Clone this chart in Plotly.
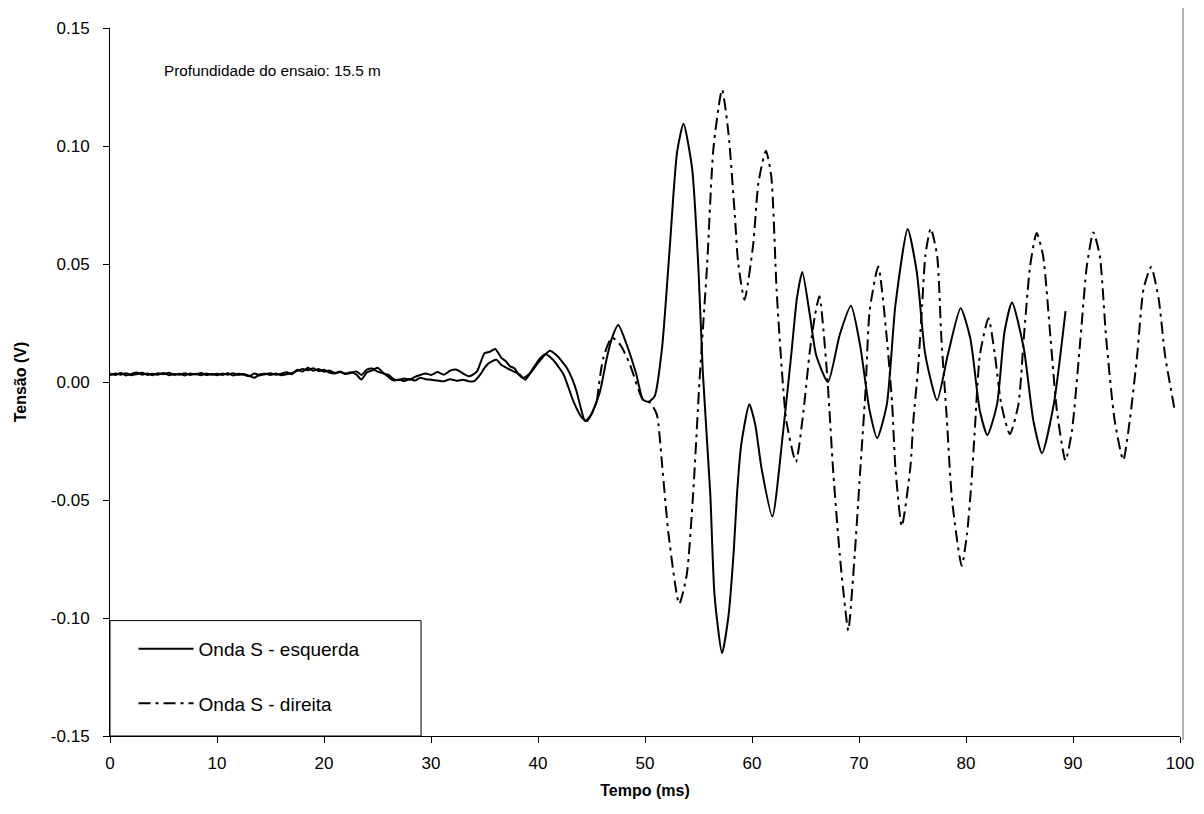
import plotly.graph_objects as go

# ---------------- data ----------------
# Onda S - esquerda (solid)
esq_t = [0.0, 0.5, 1.0, 1.5, 2.0, 2.5, 3.0, 3.5, 4.0, 4.5,
         5.0, 5.5, 6.0, 6.5, 7.0, 7.5, 8.0, 8.5, 9.0, 9.5,
         10.0, 10.5, 11.0, 11.5, 12.0, 12.5, 13.0, 13.5, 14.0, 14.5,
         15.0, 15.5, 16.0, 16.5, 17.0, 17.5, 18.0, 18.5, 19.0, 19.5,
         20.0, 20.5, 21.0, 21.5, 22.0, 22.5, 23.0, 23.5, 24.0, 24.5,
         25.0, 25.5, 26.0, 26.5, 27.0, 27.5, 28.0, 28.5, 29.0, 29.5,
         30.0, 30.6, 31.2, 31.8, 32.4, 33.0, 33.6, 34.3, 35.0, 35.5,
         36.0, 36.6, 37.0, 37.4, 37.8, 38.2, 38.6, 39.3, 39.9, 40.5,
         41.1, 41.7, 42.2, 42.7, 43.2, 43.6, 44.0, 44.4, 45.0, 45.8,
         46.4, 46.9, 47.5, 48.3, 48.8, 49.2, 49.8, 50.3, 50.9, 51.6,
         52.3, 53.0, 53.6, 54.4, 55.0, 55.4, 56.1, 56.5, 57.2, 57.8,
         58.3, 58.6, 59.0, 59.75, 60.3, 60.9, 61.9, 62.9, 63.7, 64.2,
         64.7, 65.4, 66.0, 67.1, 68.2, 69.25, 70.1, 71.0, 71.7, 72.6,
         73.4, 74.55, 75.4, 76.2, 77.3, 78.3, 79.5, 80.4, 81.3, 82.0,
         82.9, 83.6, 84.3, 85.4, 86.3, 87.1, 88.2, 89.3]
esq_v = [0.0035, 0.0030, 0.0038, 0.0028, 0.0034, 0.0040, 0.0031, 0.0036, 0.0029, 0.0037,
         0.0033, 0.0039, 0.0030, 0.0035, 0.0028, 0.0036, 0.0032, 0.0038, 0.0030, 0.0034,
         0.0029, 0.0036, 0.0031, 0.0037, 0.0030, 0.0034, 0.0027, 0.0018, 0.0032, 0.0035,
         0.0030, 0.0036, 0.0029, 0.0033, 0.0038, 0.0047, 0.0055, 0.0050, 0.0058, 0.0046,
         0.0052, 0.0040, 0.0036, 0.0042, 0.0034, 0.0038, 0.0045, 0.0030, 0.0052, 0.0057,
         0.0044, 0.0037, 0.0031, 0.0012, 0.0008, 0.0015, 0.0010, 0.0022, 0.0030, 0.0036,
         0.0030, 0.0042, 0.0031, 0.0048, 0.0052, 0.0036, 0.0024, 0.0045, 0.0122, 0.0128,
         0.0140, 0.0101, 0.0088, 0.0066, 0.0058, 0.0031, 0.0017, 0.0038, 0.0075, 0.0108,
         0.0132, 0.0115, 0.0090, 0.0059, 0.0012, -0.0039, -0.0110, -0.0165, -0.0137, -0.0039,
         0.0095, 0.0185, 0.0241, 0.0157, 0.0090, 0.0031, -0.0074, -0.0084, -0.0060, 0.0148,
         0.0561, 0.0975, 0.1094, 0.0906, 0.0475, 0.0044, -0.0473, -0.0904, -0.1149, -0.0992,
         -0.0712, -0.0474, -0.0263, -0.0094, -0.0180, -0.0368, -0.0570, -0.0214, 0.0130, 0.0355,
         0.0466, 0.0286, 0.0113, 0.0000, 0.0200, 0.0323, 0.0157, -0.0123, -0.0238, -0.0095,
         0.0325, 0.0648, 0.0466, 0.0115, -0.0077, 0.0115, 0.0312, 0.0185, -0.0123, -0.0225,
         -0.0095, 0.0213, 0.0337, 0.0143, -0.0165, -0.0302, -0.0095, 0.0300]

# Onda S - direita (dash-dot)
dir_t = [0.0, 0.5, 1.0, 1.5, 2.0, 2.5, 3.0, 3.5, 4.0, 4.5,
         5.0, 5.5, 6.0, 6.5, 7.0, 7.5, 8.0, 8.5, 9.0, 9.5,
         10.0, 10.5, 11.0, 11.5, 12.0, 12.5, 13.0, 13.5, 14.0, 14.5,
         15.0, 15.5, 16.0, 16.5, 17.0, 17.5, 18.0, 18.5, 19.0, 19.5,
         20.0, 20.5, 21.0, 21.5, 22.0, 22.5, 23.0, 23.5, 24.0, 24.5,
         25.0, 25.5, 26.0, 26.5, 27.0, 27.5, 28.0, 28.5, 29.0, 29.5,
         30.0, 30.6, 31.2, 31.8, 32.4, 33.0, 33.5, 34.0, 34.6, 35.0,
         35.4, 36.1, 36.6, 37.1, 37.7, 38.3, 38.8, 39.5, 40.2, 40.7,
         41.4, 42.4, 43.3, 44.1, 44.6, 45.5, 46.1, 46.9, 47.7, 48.6,
         49.8, 50.5, 51.1, 51.6, 52.2, 53.2, 53.9, 54.5, 55.1, 55.8,
         56.4, 57.2, 57.8, 58.4, 58.7, 59.3, 60.1, 60.6, 61.3, 61.8,
         62.3, 62.8, 63.2, 64.1, 64.8, 65.4, 65.9, 66.3, 67.0, 67.6,
         68.2, 68.7, 69.0, 69.6, 70.1, 70.6, 71.0, 71.8, 72.6, 73.1,
         73.4, 74.0, 74.8, 75.1, 75.5, 75.9, 76.2, 76.7, 77.3, 77.7,
         78.2, 78.7, 79.6, 80.1, 80.5, 80.8, 81.3, 82.1, 82.7, 83.3,
         84.1, 84.9, 85.4, 86.0, 86.6, 87.2, 87.9, 88.5, 89.3, 89.9,
         90.7, 91.3, 91.9, 92.5, 93.1, 93.9, 94.7, 95.3, 96.0, 96.6,
         97.3, 98.0, 98.6, 99.5]
dir_v = [0.0028, 0.0036, 0.0031, 0.0037, 0.0029, 0.0033, 0.0039, 0.0030, 0.0035, 0.0031,
         0.0038, 0.0029, 0.0034, 0.0031, 0.0037, 0.0030, 0.0035, 0.0029, 0.0036, 0.0031,
         0.0035, 0.0030, 0.0037, 0.0028, 0.0035, 0.0031, 0.0024, 0.0036, 0.0028, 0.0033,
         0.0037, 0.0031, 0.0035, 0.0041, 0.0033, 0.0052, 0.0044, 0.0060, 0.0048, 0.0055,
         0.0043, 0.0049, 0.0038, 0.0044, 0.0036, 0.0041, 0.0032, 0.0011, 0.0040, 0.0049,
         0.0060, 0.0040, 0.0022, 0.0006, 0.0011, 0.0004, 0.0013, 0.0006, 0.0018, 0.0012,
         0.0010, 0.0006, 0.0003, 0.0012, 0.0005, 0.0010, 0.0003, 0.0003, 0.0031, 0.0060,
         0.0080, 0.0094, 0.0072, 0.0059, 0.0045, 0.0031, 0.0010, 0.0055, 0.0101, 0.0118,
         0.0094, 0.0031, -0.0081, -0.0151, -0.0165, -0.0081, 0.0101, 0.0188, 0.0157, 0.0073,
         -0.0074, -0.0088, -0.0137, -0.0352, -0.0645, -0.0940, -0.0817, -0.0473, 0.0010, 0.0492,
         0.0992, 0.1239, 0.1054, 0.0704, 0.0508, 0.0349, 0.0578, 0.0844, 0.0980, 0.0872,
         0.0389, 0.0044, -0.0162, -0.0339, -0.0128, 0.0130, 0.0286, 0.0363, 0.0044, -0.0386,
         -0.0731, -0.0955, -0.1053, -0.0731, -0.0386, -0.0042, 0.0303, 0.0489, 0.0185, -0.0095,
         -0.0361, -0.0611, -0.0361, -0.0151, 0.0045, 0.0325, 0.0536, 0.0651, 0.0536, 0.0185,
         -0.0151, -0.0502, -0.0779, -0.0642, -0.0431, -0.0221, 0.0115, 0.0270, 0.0115, -0.0095,
         -0.0221, -0.0095, 0.0185, 0.0494, 0.0631, 0.0536, 0.0185, -0.0123, -0.0333, -0.0207,
         0.0185, 0.0494, 0.0634, 0.0536, 0.0185, -0.0165, -0.0331, -0.0165, 0.0115, 0.0396,
         0.0487, 0.0354, 0.0115, -0.0119]

dir_dash_from = 45.5   # before this time the right-hand trace looks solid in the reference

x_ticks = [0, 10, 20, 30, 40, 50, 60, 70, 80, 90, 100]
y_ticks = [-0.15, -0.10, -0.05, 0.00, 0.05, 0.10, 0.15]
y_tick_text = ["-0.15", "-0.10", "-0.05", "0.00", "0.05", "0.10", "0.15"]

name_esq = "Onda S - esquerda"
name_dir = "Onda S - direita"
note_text = "Profundidade do ensaio: 15.5 m"
x_title = "Tempo (ms)"
y_title = "Tensão (V)"

# ---------------- figure ----------------
FONT = "Arial, Liberation Sans, sans-serif"
split = dir_t.index(dir_dash_from)

fig = go.Figure()
fig.add_trace(go.Scatter(x=esq_t, y=esq_v, mode="lines", name=name_esq,
                         legendgroup="esq",
                         line=dict(color="black", width=2, shape="spline", smoothing=0.6)))
fig.add_trace(go.Scatter(x=dir_t[:split + 1], y=dir_v[:split + 1], mode="lines",
                         showlegend=False, legendgroup="dir",
                         line=dict(color="black", width=2, shape="spline", smoothing=0.6)))
fig.add_trace(go.Scatter(x=dir_t[split:], y=dir_v[split:], mode="lines", name=name_dir,
                         legendgroup="dir",
                         line=dict(color="black", width=2, shape="spline", smoothing=0.6,
                                   dash="12px,5px,3px,5px")))

fig.add_annotation(x=4.9, y=0.132, xref="x", yref="y", text=note_text,
                   showarrow=False, xanchor="left", yanchor="middle",
                   font=dict(family=FONT, size=15.3, color="black"))

# legend frame
fig.add_shape(type="rect", xref="paper", yref="paper", x0=0, x1=0.2907, y0=0, y1=0.163,
              line=dict(color="black", width=1), fillcolor="rgba(0,0,0,0)")
# grey right border line of the chart
fig.add_shape(type="line", xref="paper", yref="paper", x0=1.0028, x1=1.0028, y0=-0.006, y1=1.03,
              line=dict(color="#9a9a9a", width=1.5))

fig.update_layout(
    width=1204, height=814,
    margin=dict(l=102, r=32, t=11, b=86),
    paper_bgcolor="white", plot_bgcolor="white",
    font=dict(family=FONT, size=17, color="black"),
    showlegend=True,
    legend=dict(x=0.022, y=0.15, xanchor="left", yanchor="top",
                bgcolor="rgba(0,0,0,0)", borderwidth=0,
                font=dict(family=FONT, size=19, color="black"),
                itemwidth=55, tracegroupgap=27, traceorder="grouped"),
)
fig.update_xaxes(range=[0, 100], tickvals=x_ticks, ticks="outside", ticklen=6,
                 tickcolor="black", showline=True, linecolor="black", linewidth=1,
                 showgrid=False, zeroline=False, tickfont=dict(size=17),
                 ticklabelstandoff=6, ticklabeloverflow="allow",
                 title=dict(text="<b>" + x_title + "</b>", font=dict(size=16), standoff=12))
fig.update_yaxes(range=[-0.15, 0.15], tickvals=y_ticks, ticktext=y_tick_text,
                 ticks="outside", ticklen=6, tickcolor="black", showline=True,
                 linecolor="black", linewidth=1, showgrid=False, zeroline=False,
                 tickfont=dict(size=17), ticklabelstandoff=10, ticklabeloverflow="allow",
                 title=dict(text="<b>" + y_title + "</b>", font=dict(size=16), standoff=20))

fig.write_html("out.html")
